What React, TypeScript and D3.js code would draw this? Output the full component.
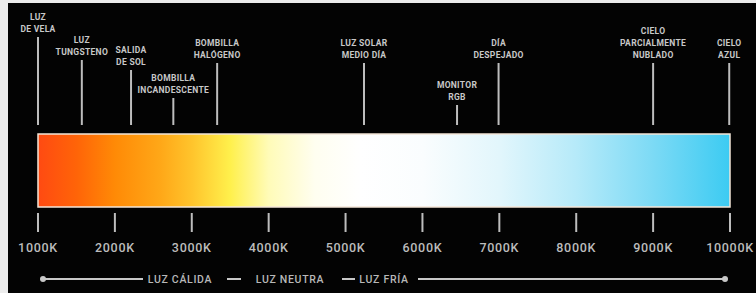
import React from 'react';
import * as d3 from 'd3';

const width = 756;
const height = 293;

// tick values (kelvin) along the bar
const tickValues = [1000, 2000, 3000, 4000, 5000, 6000, 7000, 8000, 9000, 10000];

// light sources marked above the bar
const markerKelvin = [1000, 1570, 2210, 2760, 3330, 5240, 6450, 6990, 9000, 9990];
const markerLabels = [
  ['LUZ', 'DE VELA'],
  ['LUZ', 'TUNGSTENO'],
  ['SALIDA', 'DE SOL'],
  ['BOMBILLA', 'INCANDESCENTE'],
  ['BOMBILLA', 'HALÓGENO'],
  ['LUZ SOLAR', 'MEDIO DÍA'],
  ['MONITOR', 'RGB'],
  ['DÍA', 'DESPEJADO'],
  ['CIELO', 'PARCIALMENTE', 'NUBLADO'],
  ['CIELO', 'AZUL'],
];
// top of each marker line
const markerTop = [37, 60, 70, 98, 63, 63, 105, 63, 63, 63];

// gradient stops
const stopKelvin = [1000, 1500, 2000, 2600, 3000, 3500, 4000, 4600, 5200, 6000, 7000, 8000, 9000, 10000];
const stopColor = ['#ff4a12', '#ff6408', '#ff8a06', '#ffa818', '#ffc42c', '#fff04c', '#fffbb8', '#fffef0', '#ffffff', '#fafdfe', '#e2f6fc', '#b6eaf9', '#7cdaf5', '#3ccbf2'];

const legendLabels = ['LUZ CÁLIDA', 'LUZ NEUTRA', 'LUZ FRÍA'];

const App = () => {
  const x = d3.scaleLinear().domain([1000, 10000]).range([38, 730]);
  const fmt = (d: number) => `${d}K`;

  const barTop = 134;
  const barBottom = 207;
  const labelColor = '#c8c8c8';
  const font = 'Roboto, "DejaVu Sans", sans-serif';

  const legendY = 279;
  const legendText = {
    fontSize: 10.5,
    fontWeight: 500,
    fontFamily: font,
    fill: '#b8b8b8',
    letterSpacing: 0.7,
    textAnchor: 'middle' as const,
  };

  return (
    <svg
      width={width}
      height={height}
      style={{ position: 'absolute', left: 0, top: 0, display: 'block' }}
    >
      <defs>
        <linearGradient id="kelvin" gradientUnits="userSpaceOnUse" x1={x(1000)} x2={x(10000)} y1={0} y2={0}>
          {stopKelvin.map((k, i) => (
            <stop key={i} offset={(k - 1000) / 9000} stopColor={stopColor[i]} />
          ))}
        </linearGradient>
      </defs>

      <rect x={0} y={0} width={width} height={height} fill="#ececec" />
      <rect x={8} y={3} width={width - 8} height={height - 3} fill="#030303" />

      {/* Marker lines and labels */}
      {markerKelvin.map((k, i) => {
        const lines = markerLabels[i];
        const top = markerTop[i];
        return (
          <g key={i}>
            <line x1={x(k)} x2={x(k)} y1={top} y2={125} stroke="#bdbdbd" strokeWidth={2} />
            {lines.map((t, j) => (
              <text
                key={j}
                x={x(k)}
                y={top - 5 - (lines.length - 1 - j) * 12}
                textAnchor="middle"
                fontSize="8.5"
                fontWeight="bold"
                letterSpacing="0.3"
                fontFamily={font}
                fill={labelColor}
              >
                {t}
              </text>
            ))}
          </g>
        );
      })}

      {/* Bar */}
      <rect
        x={x(1000)}
        y={barTop}
        width={x(10000) - x(1000)}
        height={barBottom - barTop}
        fill="url(#kelvin)"
        stroke="#f4e6d8"
        strokeWidth={1.5}
      />

      {/* X ticks */}
      {tickValues.map((t, i) => (
        <g key={i}>
          <line x1={x(t)} x2={x(t)} y1={213} y2={232} stroke="#bdbdbd" strokeWidth={2} />
          <text
            x={x(t)}
            y={252}
            textAnchor="middle"
            fontSize="12.5"
            fontWeight="500"
            letterSpacing="0.7"
            fontFamily={font}
            fill="#bcbcbc"
          >
            {fmt(t)}
          </text>
        </g>
      ))}

      {/* Bottom legend */}
      <line x1={x(1000) + 4} x2={143} y1={legendY} y2={legendY} stroke="#c8c8c8" strokeWidth={2} />
      <circle cx={x(1000) + 5} cy={legendY} r={3} fill="#c8c8c8" />
      <text x={180} y={legendY + 3.5} {...legendText}>{legendLabels[0]}</text>
      <line x1={227} x2={241} y1={legendY} y2={legendY} stroke="#c8c8c8" strokeWidth={2} />
      <text x={290} y={legendY + 3.5} {...legendText}>{legendLabels[1]}</text>
      <line x1={342} x2={355} y1={legendY} y2={legendY} stroke="#c8c8c8" strokeWidth={2} />
      <text x={384} y={legendY + 3.5} {...legendText}>{legendLabels[2]}</text>
      <line x1={418} x2={x(10000) - 4} y1={legendY} y2={legendY} stroke="#c8c8c8" strokeWidth={2} />
      <circle cx={x(10000) - 5} cy={legendY} r={3} fill="#c8c8c8" />
    </svg>
  );
};

export default App;
